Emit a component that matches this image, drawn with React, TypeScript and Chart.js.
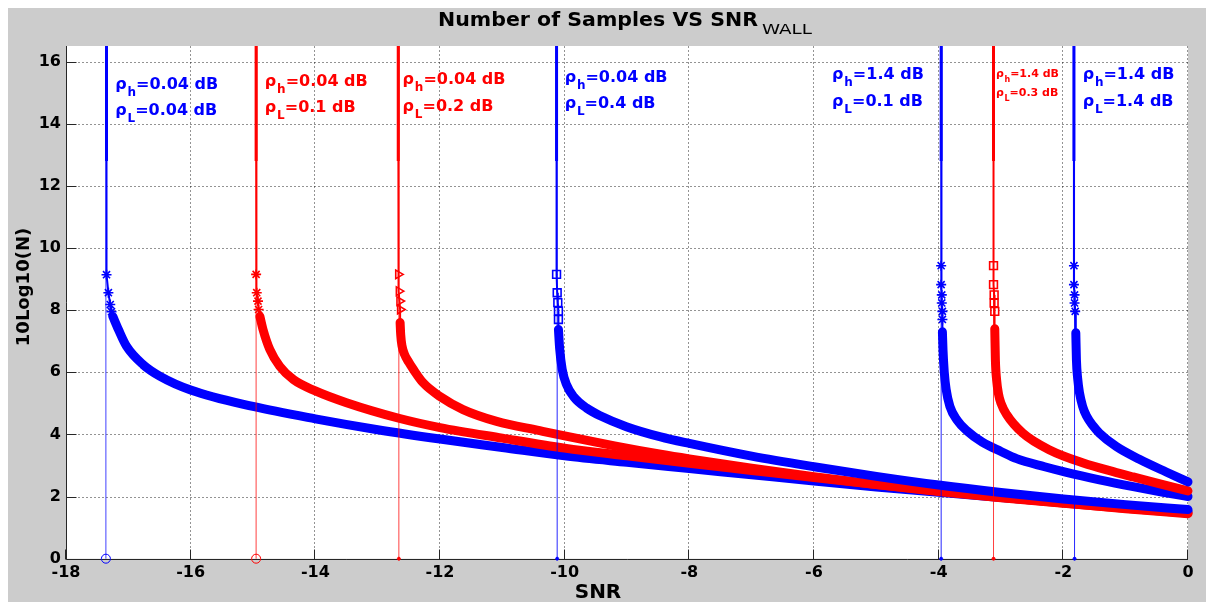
import React, { useEffect, useRef } from "react";
import { Chart, registerables } from "chart.js";

Chart.register(...registerables);

// ---------- axis ranges / ticks ----------
const X_MIN = -18;
const X_MAX = 0;
const X_STEP = 2;
const Y_MIN = 0;
const Y_MAX = 16.5;
const Y_STEP = 2;
const OFF_TOP = 17; // curves leave the plot through the top edge
const STEM_THICK_END = 12.8; // where the heavy near-vertical part of each curve ends

// ---------- series ----------
const seriesColor = ["#0000ff", "#ff0000", "#ff0000", "#0000ff", "#0000ff", "#ff0000", "#0000ff"];
const wallSNR = [-17.36, -14.95, -12.66, -10.12, -3.96, -3.12, -1.82];

const rhoH = ["0.04", "0.04", "0.04", "0.04", "1.4", "1.4", "1.4"];
const rhoL = ["0.04", "0.1", "0.2", "0.4", "0.1", "0.3", "1.4"];

// curve 1 : rho_h 0.04, rho_L 0.04
const c1MarkX = [-17.35, -17.32, -17.29, -17.27];
const c1MarkY = [9.14, 8.56, 8.18, 7.95];
const c1BandX = [-17.25, -17.16, -17.03, -16.76, -16.49, -16.0, -15.0, -14.0, -13.0, -12.0, -11.0, -10.0, -9.0, -8.0, -7.0, -6.0, -5.0, -4.0, -3.0, -2.0, -1.0, 0];
const c1BandY = [7.8, 7.38, 6.84, 6.24, 5.87, 5.43, 4.9, 4.5, 4.15, 3.85, 3.58, 3.31, 3.1, 2.9, 2.7, 2.5, 2.31, 2.14, 1.97, 1.81, 1.66, 1.52];

// curve 2 : rho_h 0.04, rho_L 0.1
const c2MarkX = [-14.95, -14.94, -14.92, -14.91];
const c2MarkY = [9.15, 8.56, 8.29, 8.02];
const c2BandX = [-14.89, -14.84, -14.73, -14.57, -14.35, -14.0, -13.5, -12.66, -12.0, -11.0, -10.0, -9.0, -8.0, -7.0, -6.0, -5.0, -4.0, -3.0, -2.0, -1.0, 0];
const c2BandY = [7.8, 7.38, 6.73, 6.19, 5.76, 5.4, 5.02, 4.52, 4.22, 3.88, 3.56, 3.31, 3.07, 2.84, 2.61, 2.39, 2.18, 1.98, 1.79, 1.61, 1.45];

// curve 3 : rho_h 0.04, rho_L 0.2
const c3MarkX = [-12.67, -12.66, -12.65, -12.64];
const c3MarkY = [9.15, 8.61, 8.29, 8.02];
const c3BandX = [-12.64, -12.63, -12.61, -12.57, -12.5, -12.43, -12.27, -12.0, -11.63, -11.09, -10.4, -10.0, -9.2, -8.46, -8.0, -7.0, -6.0, -5.0, -4.0, -3.0, -2.0, -1.0, 0];
const c3BandY = [7.6, 7.2, 6.85, 6.58, 6.32, 6.1, 5.66, 5.22, 4.8, 4.42, 4.12, 3.95, 3.63, 3.36, 3.21, 2.91, 2.64, 2.39, 2.16, 1.96, 1.78, 1.62, 1.47];

// curve 4 : rho_h 0.04, rho_L 0.4
const c4MarkX = [-10.13, -10.12, -10.11, -10.1, -10.1];
const c4MarkY = [9.15, 8.56, 8.24, 7.97, 7.7];
const c4BandX = [-10.1, -10.08, -10.04, -9.97, -9.85, -9.65, -9.43, -9.01, -8.46, -8.0, -7.0, -6.0, -5.0, -4.0, -3.0, -2.0, -1.0, 0];
const c4BandY = [7.38, 6.75, 6.1, 5.6, 5.2, 4.85, 4.6, 4.25, 3.92, 3.71, 3.3, 2.96, 2.65, 2.37, 2.13, 1.92, 1.74, 1.58];

// curve 5 : rho_h 1.4, rho_L 0.1
const c5MarkX = [-3.96, -3.96, -3.95, -3.95, -3.94, -3.94];
const c5MarkY = [9.43, 8.82, 8.49, 8.23, 7.96, 7.7];
const c5BandX = [-3.94, -3.93, -3.91, -3.88, -3.82, -3.7, -3.55, -3.3, -3.0, -2.75, -2.3, -1.95, -1.42, -0.88, -0.4, 0];
const c5BandY = [7.3, 6.7, 6.0, 5.45, 4.9, 4.45, 4.12, 3.75, 3.45, 3.22, 2.96, 2.78, 2.54, 2.32, 2.14, 2.0];

// curve 6 : rho_h 1.4, rho_L 0.3
const c6MarkX = [-3.12, -3.12, -3.11, -3.11, -3.1];
const c6MarkY = [9.43, 8.82, 8.49, 8.23, 7.96];
const c6BandX = [-3.1, -3.09, -3.07, -3.04, -3.0, -2.91, -2.65, -2.22, -1.68, -1.2, -0.88, -0.45, 0];
const c6BandY = [7.4, 6.4, 5.75, 5.3, 5.0, 4.64, 4.04, 3.5, 3.08, 2.8, 2.63, 2.41, 2.18];

// curve 7 : rho_h 1.4, rho_L 1.4
const c7MarkX = [-1.83, -1.83, -1.82, -1.82, -1.81];
const c7MarkY = [9.43, 8.82, 8.49, 8.23, 7.96];
const c7BandX = [-1.8, -1.79, -1.77, -1.74, -1.69, -1.63, -1.52, -1.42, -1.15, -0.78, -0.35, 0];
const c7BandY = [7.27, 6.4, 5.8, 5.33, 4.9, 4.6, 4.27, 4.04, 3.61, 3.2, 2.79, 2.47];

const curves = [
  { markX: c1MarkX, markY: c1MarkY, bandX: c1BandX, bandY: c1BandY },
  { markX: c2MarkX, markY: c2MarkY, bandX: c2BandX, bandY: c2BandY },
  { markX: c3MarkX, markY: c3MarkY, bandX: c3BandX, bandY: c3BandY },
  { markX: c4MarkX, markY: c4MarkY, bandX: c4BandX, bandY: c4BandY },
  { markX: c5MarkX, markY: c5MarkY, bandX: c5BandX, bandY: c5BandY },
  { markX: c6MarkX, markY: c6MarkY, bandX: c6BandX, bandY: c6BandY },
  { markX: c7MarkX, markY: c7MarkY, bandX: c7BandX, bandY: c7BandY },
];

// ---------- styling (not data) ----------
const markerStyle = ["star", "star", "triangle", "rect", "star", "rect", "star"];
const markerRotation = [0, 0, 90, 0, 0, 0, 0];
const markerRadius = [5, 5, 5, 5.5, 5, 5.5, 5];
const wallMarkerRadius = [4.5, 4.5, 1.5, 1.5, 1.5, 1.5, 1.5];
const wallColor = ["rgba(0,0,255,0.75)", "rgba(255,0,0,0.75)", "rgba(255,0,0,0.75)", "rgba(0,0,255,0.85)", "rgba(0,0,255,0.85)", "rgba(255,0,0,0.75)", "rgba(0,0,255,0.85)"];

// annotation anchors (data coords of first line baseline) & sizes
const labelX = [-17.21, -14.81, -12.6, -10.0, -5.71, -3.08, -1.69];
const labelY = [15.12, 15.22, 15.28, 15.35, 15.44, 15.51, 15.44];
const labelSize = [16, 16, 16, 16, 16, 11, 16];
const labelGap = [26, 26, 27, 26, 27, 19, 27];

const FONT = '"DejaVu Sans", "Liberation Sans", sans-serif';

function drawRho(ctx: CanvasRenderingContext2D, x: number, y: number, sub: string, rest: string, size: number, color: string) {
  ctx.fillStyle = color;
  ctx.textAlign = "left";
  ctx.textBaseline = "alphabetic";
  ctx.font = `bold ${size}px ${FONT}`;
  ctx.fillText("ρ", x, y);
  let w = ctx.measureText("ρ").width + size * 0.05;
  const subSize = Math.round(size * 0.72);
  ctx.font = `bold ${subSize}px ${FONT}`;
  ctx.fillText(sub, x + w, y + size * 0.47);
  w += ctx.measureText(sub).width;
  ctx.font = `bold ${size}px ${FONT}`;
  ctx.fillText(rest, x + w, y);
}

function fitText(ctx: CanvasRenderingContext2D, text: string, x: number, y: number, width: number) {
  const m = ctx.measureText(text).width;
  ctx.save();
  ctx.translate(x, y);
  ctx.scale(width / m, 1);
  ctx.fillText(text, 0, 0);
  ctx.restore();
}

const decorPlugin = {
  id: "decor",
  beforeDraw(chart: any) {
    const { ctx, chartArea } = chart;
    ctx.save();
    ctx.fillStyle = "#cccccc";
    ctx.fillRect(0, 0, chart.width, chart.height);
    ctx.fillStyle = "#ffffff";
    ctx.fillRect(chartArea.left, chartArea.top, chartArea.right - chartArea.left, chartArea.bottom - chartArea.top);
    ctx.restore();
  },
  beforeDatasetsDraw(chart: any) {
    const { ctx, chartArea, scales } = chart;
    const l = Math.round(chartArea.left) + 0.5;
    const b = Math.round(chartArea.bottom) + 0.5;
    ctx.save();
    // dotted grid
    ctx.strokeStyle = "rgba(0,0,0,0.85)";
    ctx.lineWidth = 1;
    ctx.setLineDash([1, 3]);
    ctx.beginPath();
    scales.x.ticks.forEach((t: any) => {
      if (t.value === X_MIN) return;
      const px = Math.round(scales.x.getPixelForValue(t.value)) - 0.5;
      ctx.moveTo(px, b);
      ctx.lineTo(px, chartArea.top);
    });
    scales.y.ticks.forEach((t: any) => {
      if (t.value === Y_MIN) return;
      const py = Math.round(scales.y.getPixelForValue(t.value)) + 0.5;
      ctx.moveTo(l, py);
      ctx.lineTo(chartArea.right, py);
    });
    ctx.stroke();
    ctx.setLineDash([]);
    // axes + inward ticks
    ctx.strokeStyle = "#262626";
    ctx.beginPath();
    ctx.moveTo(l, chartArea.top);
    ctx.lineTo(l, b);
    ctx.lineTo(chartArea.right, b);
    scales.y.ticks.forEach((t: any) => {
      const py = Math.round(scales.y.getPixelForValue(t.value)) + 0.5;
      ctx.moveTo(l, py);
      ctx.lineTo(l + 10, py);
    });
    scales.x.ticks.forEach((t: any) => {
      const px = Math.round(scales.x.getPixelForValue(t.value)) - 0.5;
      ctx.moveTo(px, b);
      ctx.lineTo(px, b - 10);
    });
    ctx.stroke();
    ctx.restore();
  },
  afterDraw(chart: any) {
    const { ctx, scales } = chart;
    ctx.save();
    // title
    ctx.fillStyle = "#000";
    ctx.textBaseline = "alphabetic";
    ctx.textAlign = "left";
    ctx.font = `bold 20px ${FONT}`;
    fitText(ctx, "Number of Samples VS SNR", 430, 18, 320);
    ctx.font = `14px ${FONT}`;
    fitText(ctx, "WALL", 754, 26, 50);
    // axis labels
    ctx.font = `bold 20px ${FONT}`;
    ctx.textAlign = "center";
    ctx.textBaseline = "middle";
    ctx.fillText("SNR", 590, 585);
    ctx.save();
    ctx.translate(16, 279);
    ctx.rotate(-Math.PI / 2);
    ctx.font = `bold 18px ${FONT}`;
    ctx.fillText("10Log10(N)", 0, 0);
    ctx.restore();
    // annotations
    for (let i = 0; i < 7; i++) {
      const px = scales.x.getPixelForValue(labelX[i]);
      const py = scales.y.getPixelForValue(labelY[i]);
      drawRho(ctx, px, py, "h", `=${rhoH[i]} dB`, labelSize[i], seriesColor[i]);
      drawRho(ctx, px, py + labelGap[i], "L", `=${rhoL[i]} dB`, labelSize[i], seriesColor[i]);
    }
    ctx.restore();
  },
};

function buildDatasets() {
  const ds: any[] = [];
  curves.forEach((c, i) => {
    const color = seriesColor[i];
    const wx = wallSNR[i];
    // thick band made by the dense markers
    ds.push({
      data: c.bandX.map((x, k) => ({ x, y: c.bandY[k] })),
      showLine: true,
      borderColor: color,
      backgroundColor: color,
      borderWidth: 9,
      pointRadius: 0,
      cubicInterpolationMode: "monotone",
      borderJoinStyle: "round",
      borderCapStyle: "round",
      order: 100 - i,
      clip: { left: 0, top: 0, right: 6, bottom: 0 },
    });
    // thin near-vertical line with the sparse markers
    const mk = c.markX.map((x, k) => ({ x, y: c.markY[k] }));
    ds.push({
      data: [{ x: c.markX[0], y: OFF_TOP }, ...mk, { x: c.bandX[0], y: c.bandY[0] }],
      showLine: true,
      borderColor: color,
      backgroundColor: "rgba(0,0,0,0)",
      borderWidth: 2,
      pointRadius: [0, ...mk.map(() => markerRadius[i]), 0],
      pointStyle: markerStyle[i],
      rotation: markerRotation[i],
      pointBorderWidth: 1.6,
      pointBorderColor: color,
      order: 99.5 - i,
      clip: 0,
    });
    // heavy top part of the curve
    ds.push({
      data: [{ x: c.markX[0], y: OFF_TOP }, { x: c.markX[0], y: STEM_THICK_END }],
      showLine: true,
      borderColor: color,
      borderWidth: 3,
      pointRadius: 0,
      order: 99.4 - i,
      clip: 0,
    });
    // SNR wall stem
    ds.push({
      data: [{ x: wx, y: 0 }, { x: wx, y: OFF_TOP }],
      showLine: true,
      borderColor: wallColor[i],
      backgroundColor: i < 2 ? "rgba(0,0,0,0)" : color,
      borderWidth: 1,
      pointRadius: [wallMarkerRadius[i], 0],
      pointBorderColor: color,
      pointBorderWidth: 1,
      pointStyle: "circle",
      order: 1,
      clip: { left: false, right: false, top: 0, bottom: false },
    });
  });
  return ds;
}

export default function App() {
  const ref = useRef<HTMLCanvasElement>(null);
  useEffect(() => {
    const canvas = ref.current;
    if (!canvas) return;
    const chart = new Chart(canvas, {
      type: "scatter",
      data: { datasets: buildDatasets() },
      plugins: [decorPlugin],
      options: {
        responsive: false,
        animation: false,
        devicePixelRatio: 1,
        events: [],
        layout: { padding: { top: 38, right: 18, left: 0, bottom: 0 } },
        plugins: { legend: { display: false }, tooltip: { enabled: false }, title: { display: false } },
        scales: {
          x: {
            type: "linear",
            min: X_MIN,
            max: X_MAX,
            ticks: { stepSize: X_STEP, color: "#000", font: { family: FONT, size: 16, weight: "bold" }, padding: 5, maxRotation: 0 },
            grid: { display: false, drawTicks: false },
            border: { display: false },
            afterFit: (s: any) => {
              s.height = 43.3;
            },
          },
          y: {
            type: "linear",
            min: Y_MIN,
            max: Y_MAX,
            ticks: { stepSize: Y_STEP, includeBounds: false, color: "#000", font: { family: FONT, size: 16, weight: "bold" }, padding: 5 },
            grid: { display: false, drawTicks: false },
            border: { display: false },
            afterFit: (s: any) => {
              s.width = 58;
            },
          },
        },
      } as any,
    });
    return () => chart.destroy();
  }, []);
  return (
    <div style={{ position: "fixed", left: 8, top: 8, width: 1198, height: 594, background: "#cccccc" }}>
      <canvas ref={ref} width={1198} height={594} style={{ display: "block", width: 1198, height: 594 }} />
    </div>
  );
}
